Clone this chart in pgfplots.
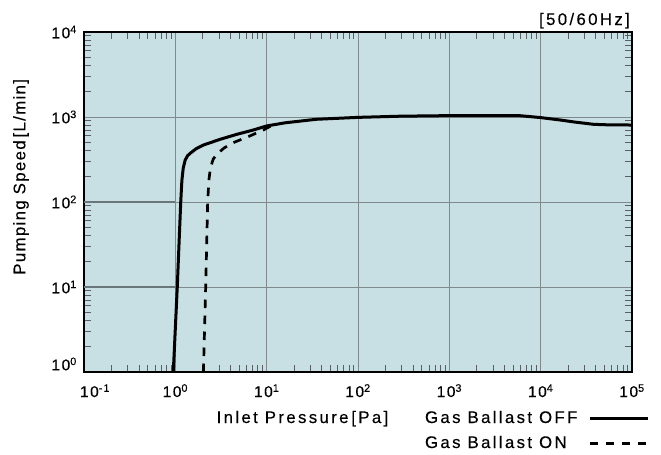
\documentclass[border=0pt]{standalone}
\usepackage{fontspec}
\setmainfont{Liberation Sans}[LetterSpace=14, FakeBold=0.3]
\newfontfamily\ylabfont{Liberation Sans}[LetterSpace=8, FakeBold=0.3]
\newfontfamily\tickfont{Liberation Sans}[LetterSpace=10, FakeBold=0.3]
\usepackage{pgfplots}
\pgfplotsset{compat=1.18}
\definecolor{bgc}{RGB}{200,223,228}
\definecolor{gridc}{RGB}{128,138,141}
\definecolor{tickc}{RGB}{90,95,97}
\definecolor{darkgrid}{RGB}{105,118,122}
\begin{document}
\begin{tikzpicture}[font=\fontsize{16.8bp}{20bp}\selectfont]
\path[use as bounding box] (-84bp,-83bp) rectangle (577bp,372bp);
\begin{axis}[
  at={(0,0)}, anchor=south west,
  scale only axis, width=548bp, height=340bp,
  clip mode=individual,
  xmode=log, ymode=log, log basis x=10, log basis y=10,
  xmin=0.1, xmax=1e5, ymin=1, ymax=1e4,
  axis background/.style={fill=bgc},
  axis line style={line width=2.4bp, black},
  grid=major, major grid style={gridc, line width=0.9bp},
  tick align=inside, xtick pos=both, ytick pos=both,
  xticklabel pos=bottom, yticklabel pos=left,
  major tick length=0pt, minor tick length=7bp,
  minor tick style={tickc, line width=0.8bp},
  xtick={0.1,1,10,100,1000,10000,100000},
  xticklabels={\hspace*{22bp}10\textsuperscript{-1},10\textsuperscript{0},10\textsuperscript{1},10\textsuperscript{2},10\textsuperscript{3},10\textsuperscript{4},10\textsuperscript{5}},
  ytick={1,10,100,1000,10000},
  yticklabels={\raisebox{8bp}[\height][\depth]{10\textsuperscript{0}},10\textsuperscript{1},10\textsuperscript{2},10\textsuperscript{3},10\textsuperscript{4}},
  minor xtick={0.2,0.3,0.4,0.5,0.6,0.7,0.8,0.9,2,3,4,5,6,7,8,9,20,30,40,50,60,70,80,90,200,300,400,500,600,700,800,900,2000,3000,4000,5000,6000,7000,8000,9000,20000,30000,40000,50000,60000,70000,80000,90000},
  minor ytick={2,3,4,5,6,7,8,9,20,30,40,50,60,70,80,90,200,300,400,500,600,700,800,900,2000,3000,4000,5000,6000,7000,8000,9000},
  xticklabel style={font=\tickfont\fontsize{15.5bp}{18bp}\selectfont, anchor=base, yshift=-25bp, inner sep=0pt},
  yticklabel style={font=\tickfont\fontsize{15.5bp}{18bp}\selectfont, anchor=east, xshift=-7bp, inner sep=0pt},
  xlabel={Inlet Pressure\,[Pa]},
  xlabel style={at={(rel axis cs:0.3987,0)}, anchor=base, yshift=-51bp, inner sep=0pt},
  ylabel={Pumping Speed\,[L/min]},
  ylabel style={at={(rel axis cs:0,0.574)}, font=\ylabfont\fontsize{16.8bp}{20bp}\selectfont, anchor=south, yshift=55bp, inner sep=0pt},
  legend plot pos=right,
  legend cell align=left,
  legend image code/.code={\draw[#1] (0bp,0bp) -- (58bp,0bp);},
  legend style={at={(rel axis cs:0.6223,0)}, anchor=north west, yshift=-39bp,
    draw=none, fill=none, inner sep=0pt, outer sep=0pt,
    row sep=10bp, column sep=11bp,
    nodes={inner sep=0pt, text height=12bp, text depth=3bp},
    font=\fontsize{16.8bp}{20bp}\selectfont},
]
\addplot[darkgrid, line width=1.2bp, forget plot] coordinates {(0.1,10) (1,10)};
\addplot[darkgrid, line width=1.2bp, forget plot] coordinates {(0.1,100) (1,100)};
\addplot[black, line width=3bp, line join=round] coordinates {
 (0.95,1) (1.05,10) (1.146,100) (1.18,180) (1.22,250) (1.28,310) (1.36,350)
 (1.48,380) (1.7,425) (2.03,468) (3.09,546) (4.7,625) (7.14,703) (10,785)
 (16,855) (35,940) (100,990) (290,1022) (800,1035) (3000,1038) (6000,1035)
 (9900,985) (16000,925) (23000,875) (38000,820) (60000,806) (100000,805)};
\addlegendentry{Gas Ballast OFF}
\addplot[black, line width=2.7bp, dash pattern=on 8.5bp off 7.5bp] coordinates {
 (2.03,1) (2.15,10) (2.26,100) (2.33,180) (2.42,250) (2.6,320) (2.85,365)
 (3.4,430) (4.14,490) (6.3,588) (9.2,703) (11.5,800)};
\addlegendentry{Gas Ballast ON}
\node[anchor=base east, inner sep=0pt, xshift=-2bp, yshift=7bp] at (rel axis cs:1,1) {[50/60Hz]};
\end{axis}
\end{tikzpicture}
\end{document}
